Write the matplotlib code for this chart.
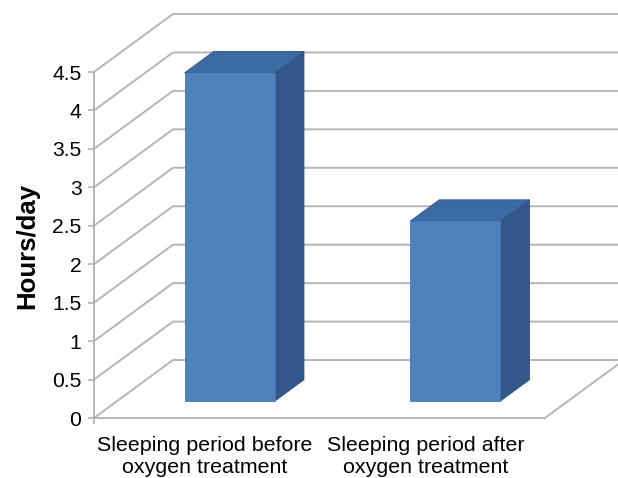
import matplotlib
matplotlib.use("Agg")
import matplotlib.pyplot as plt
import numpy as np
from matplotlib.patches import Polygon

plt.rcParams['font.family'] = ['Liberation Sans', 'DejaVu Sans']

# data
categories = ["Sleeping period before\noxygen treatment",
              "Sleeping period after\noxygen treatment"]
hours = [4.27, 2.34]
y_ticks = [0, 0.5, 1, 1.5, 2, 2.5, 3, 3.5, 4, 4.5]
y_labels = ["0", "0.5", "1", "1.5", "2", "2.5", "3", "3.5", "4", "4.5"]

# fake 3d (oblique projection, excel style)
DX, DY = 0.35, 0.754      # offset of the back wall in data units
bar_w = 0.4
d_front, d_back = 0.29, 0.66
grid_col = '#b5b5b5'

def proj(x, y, d):
    return (x + d * DX, y + d * DY)

fig = plt.figure(figsize=(6.18, 4.78), dpi=100)
ax = fig.add_axes([94/618, 60/478, 451/618, 346/478])
ax.set_xlim(0, 2)
ax.set_ylim(0, 4.5)

# gridlines: diagonal on the side wall, then along the back wall
for v in y_ticks:
    xs = [0, DX, 2 + DX]
    ys = [v, v + DY, v + DY]
    ax.plot(xs, ys, color=grid_col, lw=1.4, clip_on=False, zorder=1)

# floor right edge
ax.plot([2, 2 + DX], [0, DY], color=grid_col, lw=1.4, clip_on=False, zorder=1)

# bars
for i, v in enumerate(hours):
    x0 = i + 0.5 - bar_w / 2
    x1 = i + 0.5 + bar_w / 2
    front = [proj(x0, 0, d_front), proj(x1, 0, d_front),
             proj(x1, v, d_front), proj(x0, v, d_front)]
    side = [proj(x1, 0, d_front), proj(x1, 0, d_back),
            proj(x1, v, d_back), proj(x1, v, d_front)]
    top = [proj(x0, v, d_front), proj(x1, v, d_front),
           proj(x1, v, d_back), proj(x0, v, d_back)]
    ax.add_patch(Polygon(side, closed=True, fc='#33578a', ec='#2c4d7a', lw=0.6, zorder=3, clip_on=False))
    ax.add_patch(Polygon(top, closed=True, fc='#3c6aa3', ec='#2f5688', lw=0.6, zorder=3, clip_on=False))
    ax.add_patch(Polygon(front, closed=True, fc='#4f81bd', ec='#4577b3', lw=0.6, zorder=4, clip_on=False))

# axes look
for s in ['top', 'right']:
    ax.spines[s].set_visible(False)
for s in ['left', 'bottom']:
    ax.spines[s].set_color(grid_col)
    ax.spines[s].set_linewidth(1.4)
    ax.spines[s].set_zorder(2)

ax.set_yticks(y_ticks)
ax.set_yticklabels(y_labels, fontsize=15.2)
ax.tick_params(axis='y', direction='out', length=4, width=1.2, color=grid_col, pad=5)

# category labels sit a touch left of the bar centres in the original
ax.set_xticks([0.49, 1.47])
ax.set_xticklabels(categories, fontsize=15.4, linespacing=1.2)
ax.tick_params(axis='x', length=0, pad=13)
ax.set_xticks([0], minor=True)
ax.tick_params(axis='x', which='minor', direction='out', length=4, width=1.2, color=grid_col)

fig.text(27/618, 1 - 246/478, "Hours/day", rotation=90, fontsize=18.5,
         fontweight='bold', ha='center', va='center')

plt.savefig('out.png', dpi=100)
